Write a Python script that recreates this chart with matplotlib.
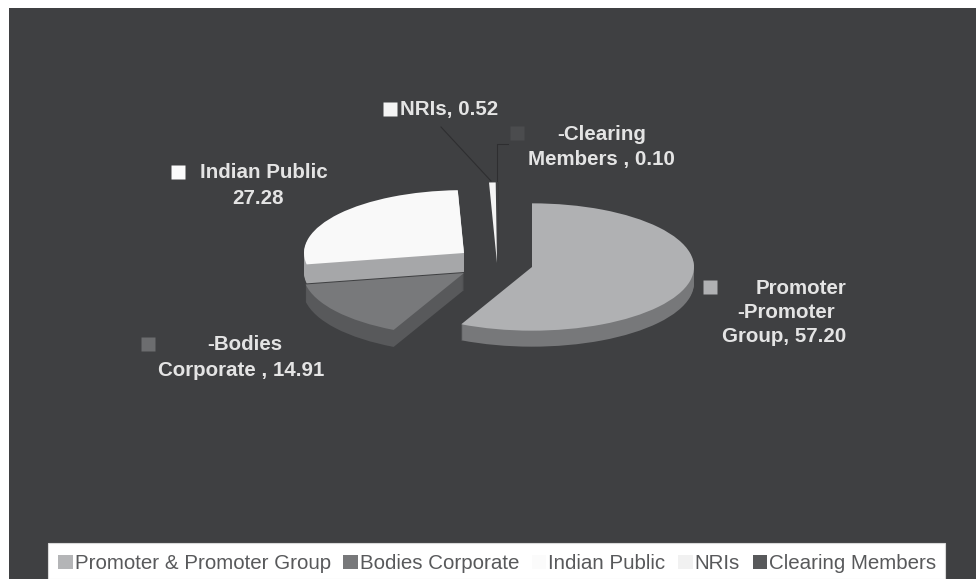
import matplotlib
matplotlib.use("Agg")
import matplotlib.pyplot as plt
from matplotlib.patches import Rectangle, Patch

categories = ["Promoter & Promoter Group", "Bodies Corporate", "Indian Public", "NRIs", "Clearing Members"]
values = [57.20, 14.91, 27.28, 0.52, 0.10]
callouts = [["Promoter", "-Promoter", "Group, 57.20"], ["-Bodies", "Corporate , 14.91"], ["Indian Public", "27.28"],
            ["NRIs, 0.52"], ["-Clearing", "Members , 0.10"]]

BG = "#3f4042"
top_colors = ["#b0b1b3", "#78797b", "#f9f9f9", "#f4f4f4", "#3a3a3c"]
side_colors = ["#77787a", "#58595b", "#a6a7a9", "#8a8a8a", "#3a3a3c"]
legend_colors = ["#b4b5b7", "#77787a", "#fbfbfb", "#f1f1f1", "#58595b"]
marker_colors = ["#b0b1b3", "#6c6d6f", "#fbfbfb", "#f4f4f4", "#4b4c4e"]
# slice layout in image pixels: apex x, apex y, radius, depth
apex = [(532, 267, 162, 16), (464, 273, 161, 17), (464, 253, 160, 19), (497, 263, 205, 0), (499, 263, 205, 0)]
# callout layout in image pixels: marker position, then one centre per text line
marker_spots = [(710, 287), (148, 344), (178, 172), (390, 109), (517, 133)]
line_spots = [[(801, 288), (786, 312), (784, 337)], [(245, 345), (241, 370)], [(264, 173), (258, 199)],
              [(449, 109)], [(602, 134), (601, 159)]]
SQUASH = 0.393
W, H = 976, 579

fig = plt.figure(figsize=(W / 100, H / 100), dpi=100, facecolor="white")
fig.patches.append(Rectangle((9 / W, 0), (W - 9) / W, 571 / H, transform=fig.transFigure,
                             facecolor=BG, edgecolor="none", zorder=-2))
fig.patches.append(Rectangle((48 / W, 0), 897 / W, 36 / H, transform=fig.transFigure,
                             facecolor="white", edgecolor="#d8d8d8", lw=0.8, zorder=-1))

# pie axes: x in pixels, y stretched so that the circles come out flattened
ax = fig.add_axes([0, 0, 1, 1])
ax.patch.set_alpha(0)
total = sum(values)
start = 90
for i, v in enumerate(values):
    cx, cy, r, depth = apex[i]
    for d in list(range(depth, 0, -1)) + [0]:
        color = side_colors[i] if d else top_colors[i]
        ax.pie([v, total - v], colors=[color, "none"], startangle=start, counterclock=False,
               radius=r, center=(cx, (H - cy - d) / SQUASH), frame=False)
    start -= v / total * 360
ax.set_aspect("auto")
ax.set_xlim(0, W)
ax.set_ylim(0, H / SQUASH)
ax.axis("off")

# overlay in pixel coordinates for callouts
ov = fig.add_axes([0, 0, 1, 1])
ov.set_xlim(0, W)
ov.set_ylim(H, 0)
ov.axis("off")
ov.plot([441, 491], [127, 181], color="#2e2e30", lw=0.8)
ov.plot([508, 497, 497], [144, 144, 181], color="#2e2e30", lw=0.8)
for i, lines in enumerate(callouts):
    ov.plot(*marker_spots[i], marker="s", ms=10, mfc=marker_colors[i], mec="none")
    for line, (tx, ty) in zip(lines, line_spots[i]):
        ov.text(tx, ty, line, ha="center", va="center", color="#e4e4e4", fontsize=14.8, fontweight="bold",
                family="Liberation Sans")

handles = [Patch(facecolor=c, edgecolor="none") for c in legend_colors]
leg = fig.legend(handles, categories, ncol=5, loc="lower left", bbox_to_anchor=(54 / W, 2 / H),
                 frameon=False, borderaxespad=0,
                 prop={"family": "Liberation Sans", "size": 14.8}, labelcolor="#58595b",
                 handlelength=0.7, handleheight=0.7, handletextpad=0.1, columnspacing=0.62, borderpad=0.2)

plt.savefig("out.png", dpi=100)
